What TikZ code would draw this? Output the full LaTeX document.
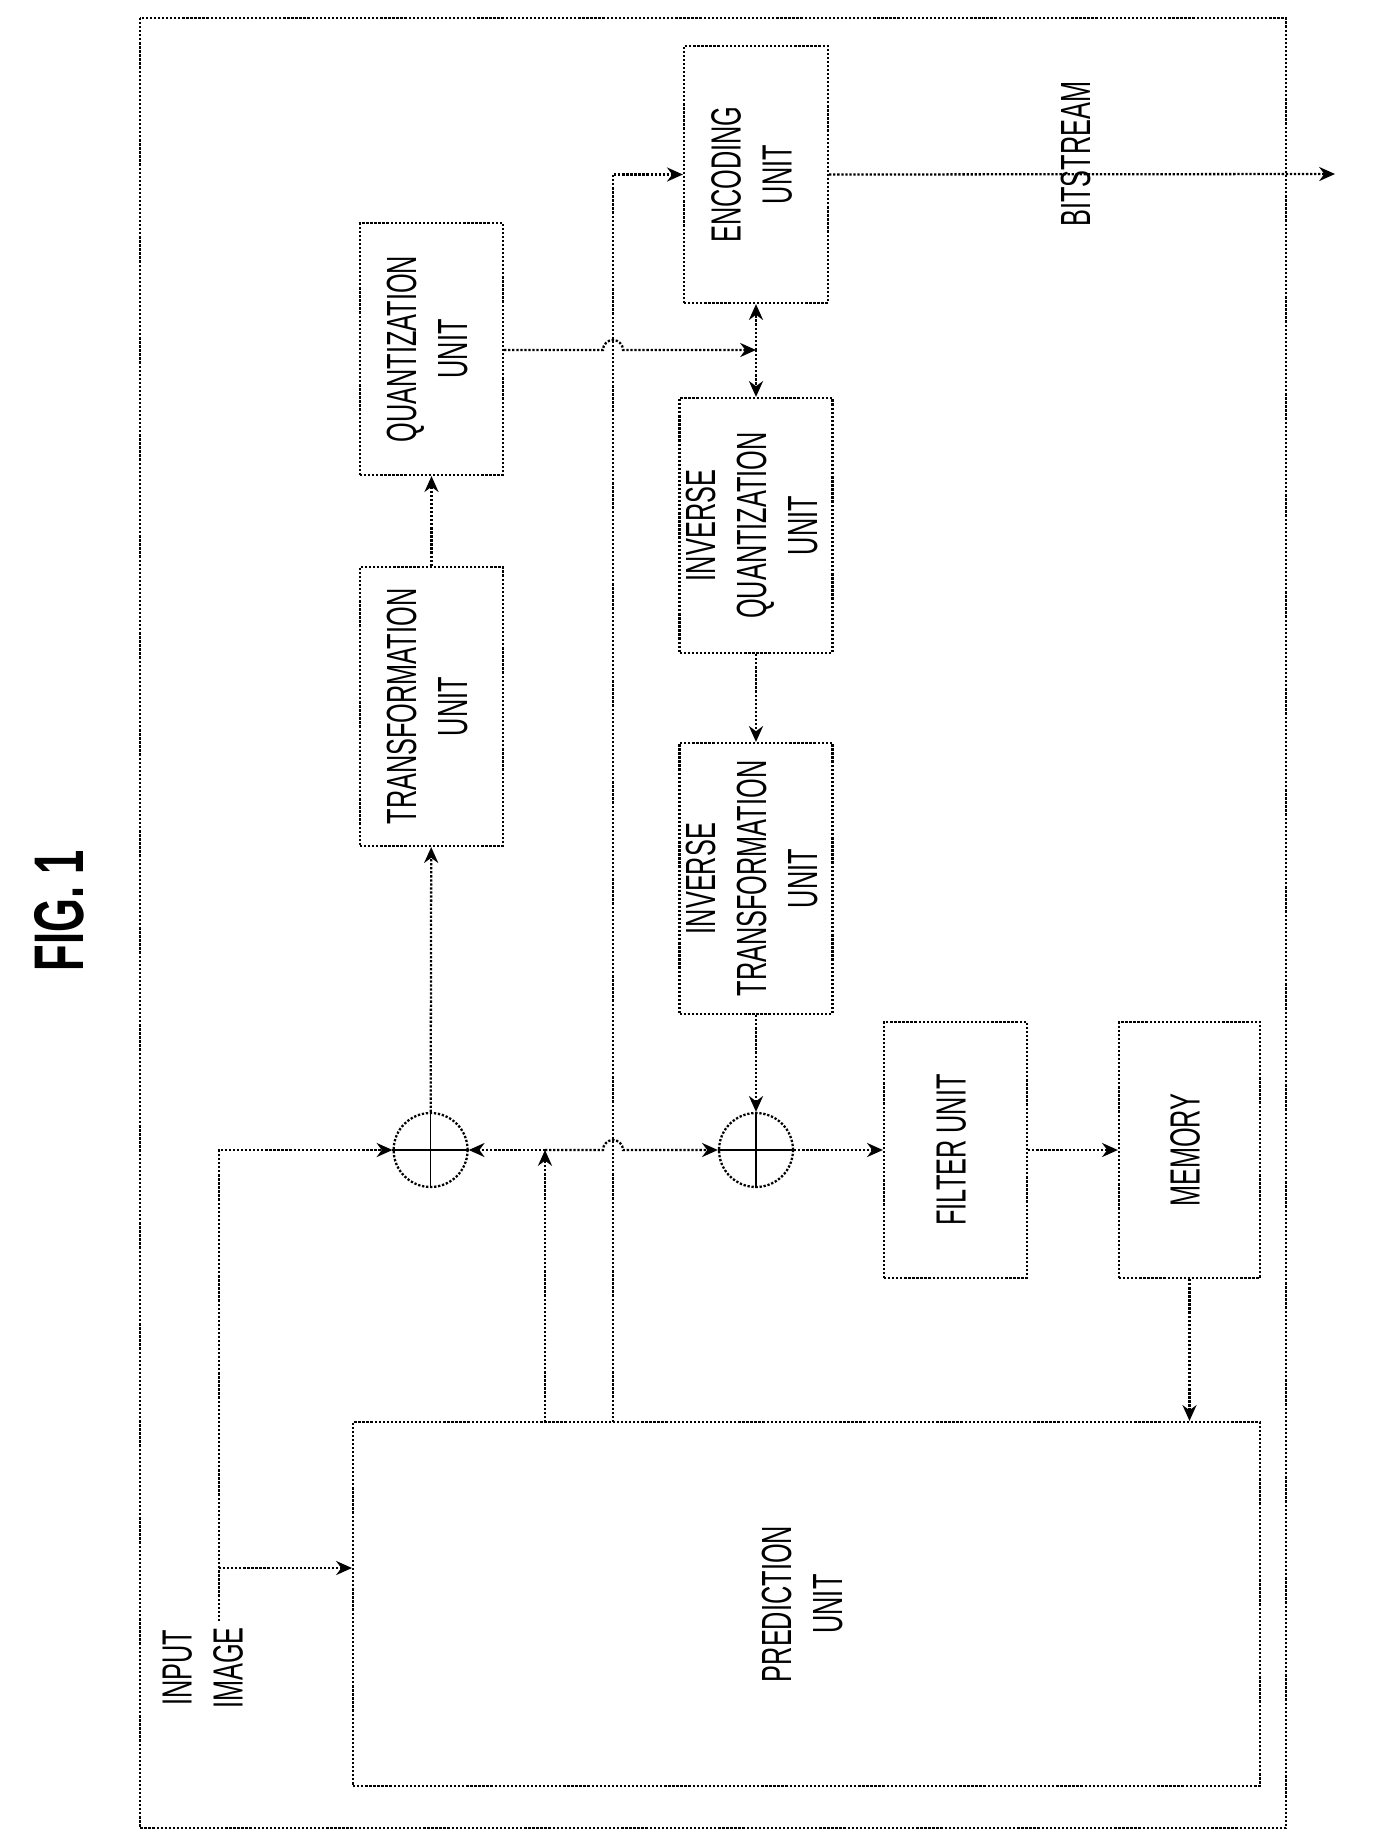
\documentclass[tikz,border=0pt]{standalone}
\usepackage{fontspec}
\setmainfont{Liberation Sans}
\usetikzlibrary{arrows.meta}
\newcommand{\vtext}[1]{\rotatebox{90}{\scalebox{0.6}[1]{\fontsize{24}{29}\selectfont\begin{tabular}{@{}c@{}}#1\end{tabular}}}}
\tikzset{
  dots/.style={densely dotted, line width=1.3pt},
  unit/.style={draw, dots, inner sep=0pt},
  summer/.style={draw, dots, circle, minimum size=1.48cm, inner sep=0pt},
  tip/.style={-{Stealth[length=9pt,width=8pt]}}
}
\begin{document}
\begin{tikzpicture}[x=0.02cm,y=-0.02cm]
  \useasboundingbox (0,0) rectangle (1373,1837);
  % Rahmen
  \draw[dots] (140,18) rectangle (1286,1828);
  % Titel
  \node (fig) at (59,911) {\rotatebox{90}{\scalebox{0.62}[1]{\fontsize{40}{44}\selectfont\bfseries FIG. 1}}};
  % Bloecke
  \node[unit, minimum width=18.14cm, minimum height=7.28cm] (pred) at (806.5,1604) {\vtext{PREDICTION\\UNIT}};
  \node[unit, minimum width=2.86cm, minimum height=5.58cm] (trans) at (431.5,706.5) {\vtext{TRANSFORMATION\\UNIT}};
  \node[unit, minimum width=2.86cm, minimum height=5.04cm] (quant) at (431.5,349) {\vtext{QUANTIZATION\\UNIT}};
  \node[unit, minimum width=2.88cm, minimum height=5.14cm] (enc) at (756,174.5) {\vtext{ENCODING\\UNIT}};
  \node[unit, minimum width=2.88cm, minimum height=5.10cm] (iquant) at (756,525.5) {\vtext{INVERSE\\QUANTIZATION\\UNIT}};
  \node[unit, minimum width=2.88cm, minimum height=5.42cm] (itrans) at (756,878.5) {\vtext{INVERSE\\TRANSFORMATION\\UNIT}};
  \node[unit, minimum width=2.86cm, minimum height=5.12cm] (filter) at (955.5,1150) {\vtext{FILTER UNIT}};
  \node[unit, minimum width=2.82cm, minimum height=5.12cm] (mem) at (1189.5,1150) {\vtext{MEMORY}};
  % Addierer
  \node[summer] (sum1) at (430.6,1150) {};
  \node[summer] (sum2) at (756,1150) {};
  \foreach \s in {sum1,sum2} {
    \draw[line width=0.8pt] (\s.north) -- (\s.south) (\s.west) -- (\s.east);
  }
  % Beschriftungen
  \node (inlbl) at (207,1668) {\vtext{INPUT\\IMAGE}};
  \node (bits) at (1080,154) {\vtext{BITSTREAM}};
  % Hilfspunkte
  \coordinate (in) at (219,1621);
  \coordinate (inbr) at (219,1568);
  \coordinate (pr) at (545,1150);
  \coordinate (pb) at (545,1422);
  \coordinate (jq) at (756,350);
  \coordinate (vx) at (613,1422);
  \coordinate (out) at (1335,174);
  % Verbindungen
  \draw[dots, tip] (in) |- (sum1.west);
  \draw[dots, tip] (inbr) -- (inbr -| pred.west);
  \draw[dots, tip] (sum1) -- (trans);
  \draw[dots, tip] (trans) -- (quant);
  \draw[dots, tip] (quant.east |- jq) -- (603,350) arc[start angle=180, end angle=0, radius=0.2cm] -- (jq);
  \draw[dots, tip] (jq) -- (enc.south);
  \draw[dots, tip] (jq) -- (iquant.north);
  \draw[dots, tip] (iquant) -- (itrans);
  \draw[dots, tip] (itrans) -- (sum2);
  \draw[dots, tip] (pb) -- (pr);
  \draw[dots, tip] (pr) -- (sum1.east);
  \draw[dots, tip] (pr) -- (603,1150) arc[start angle=180, end angle=0, radius=0.2cm] -- (sum2.west);
  \draw[dots, tip] (vx) |- (enc.west);
  \draw[dots, tip] (enc.east) -- (out);
  \draw[dots, tip] (sum2) -- (filter);
  \draw[dots, tip] (filter) -- (mem);
  \draw[dots, tip] (mem.south) -- (mem.south |- pred.north);
\end{tikzpicture}
\end{document}
